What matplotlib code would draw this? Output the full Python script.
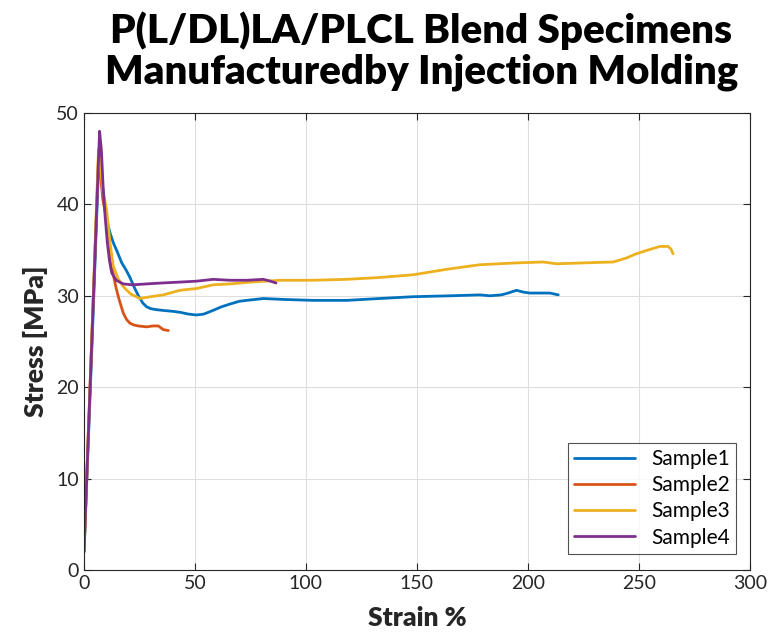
import matplotlib.pyplot as plt
import numpy as np

# strain (%) / stress (MPa)
s1_strain = [0, 3.5, 6.8, 7.8, 8.7, 10.2, 11.7, 13.2, 15, 17, 19, 20.7, 22.5, 24.5, 26.5, 28.2, 30, 32,
             35.6, 40, 43.2, 47, 50.7, 54, 58.1, 62, 65.8, 70, 73.3, 77, 80.8, 90, 103.3, 118.3, 133,
             148.3, 164.9, 178.4, 182.9, 188, 191.1, 194.9, 198, 200.9, 205, 209.9, 213.7]
s1_stress = [2, 24, 46, 43.5, 40.8, 38.3, 36.9, 35.8, 34.8, 33.6, 32.8, 32.0, 31.0, 30.0, 29.2, 28.8, 28.6,
             28.5, 28.4, 28.3, 28.2, 28.0, 27.9, 28.0, 28.4, 28.8, 29.1, 29.4, 29.5, 29.6, 29.7, 29.6,
             29.5, 29.5, 29.7, 29.9, 30.0, 30.1, 30.0, 30.1, 30.3, 30.6, 30.4, 30.3, 30.3, 30.3, 30.1]

s2_strain = [0, 3.3, 6.5, 7.5, 8.5, 10.2, 11.2, 12.2, 13.2, 14.5, 15.8, 17.7, 19.2, 20.7, 22.5, 24.5,
             28.2, 31, 33.5, 35.7, 38]
s2_stress = [2, 24, 45, 43, 40.5, 38.3, 36.2, 34.0, 32.3, 30.8, 29.6, 28.1, 27.4, 27.0, 26.8, 26.7,
             26.6, 26.7, 26.7, 26.3, 26.2]

s3_strain = [0, 3.3, 6.5, 7.5, 8.5, 10.2, 11.7, 13.2, 15.5, 17.7, 21, 25.2, 30, 35.7, 43.2, 50.7, 58.2,
             65.8, 75, 88.3, 103, 118.3, 133, 148.3, 163.4, 178.4, 194.9, 206.9, 212.9, 224.9, 238.4,
             244, 248.9, 254, 259.5, 263.2, 264.5, 265.4]
s3_stress = [2, 24, 46, 44, 41.5, 39.4, 35.8, 33.2, 31.8, 31.0, 30.2, 29.7, 29.9, 30.1, 30.6, 30.8, 31.2,
             31.3, 31.5, 31.7, 31.7, 31.8, 32.0, 32.3, 32.9, 33.4, 33.6, 33.7, 33.5, 33.6, 33.7,
             34.1, 34.6, 35.0, 35.4, 35.4, 35.1, 34.6]

s4_strain = [0, 3.5, 7, 7.8, 8.6, 9.5, 10.5, 11.5, 12.5, 14.5, 17.7, 22, 28.2, 35, 43.2, 50.7, 58.2,
             65.8, 73.3, 80.8, 84, 86.5]
s4_stress = [2, 25, 48, 46, 42, 38.7, 35.8, 33.8, 32.5, 31.7, 31.3, 31.2, 31.3, 31.4, 31.5, 31.6, 31.8,
             31.7, 31.7, 31.8, 31.6, 31.4]

labels = ['Sample1', 'Sample2', 'Sample3', 'Sample4']
colors = ['#0072BD', '#D95319', '#EDB120', '#7E2F8E']

plt.rcParams['font.family'] = ['Lato', 'DejaVu Sans']

fig = plt.figure(figsize=(7.73, 6.41), dpi=100)
ax = fig.add_axes([0.1087, 0.1108, 0.8613, 0.7129])

data = [(s1_strain, s1_stress), (s2_strain, s2_stress), (s3_strain, s3_stress), (s4_strain, s4_stress)]
for (x, y), lab, c in zip(data, labels, colors):
    ax.plot(x, y, color=c, lw=2.0, label=lab, solid_capstyle='round', solid_joinstyle='round')

ax.set_xlim(0, 300)
ax.set_ylim(0, 50)
ax.set_xticks(np.arange(0, 301, 50))
ax.set_yticks(np.arange(0, 51, 10))
ax.grid(True, color='#dedede', lw=0.8)
ax.set_axisbelow(True)
ax.tick_params(direction='in', top=True, right=True, labelsize=14, colors='#262626', length=5)
for sp in ax.spines.values():
    sp.set_color('#262626')
    sp.set_linewidth(0.8)

ax.set_xlabel('Strain %', fontsize=19, fontweight='heavy', color='#262626', labelpad=10)
ax.set_ylabel('Stress [MPa]', fontsize=19, fontweight='heavy', color='#262626', labelpad=6)
fig.suptitle('P(L/DL)LA/PLCL Blend Specimens\nManufacturedby Injection Molding',
             fontsize=29, fontweight='heavy', x=0.545, y=0.982, linespacing=1.12)

leg = ax.legend(loc='lower right', fontsize=15, frameon=True, fancybox=False,
                edgecolor='#262626', handlelength=2.9, borderpad=0.3, labelspacing=0.3,
                bbox_to_anchor=(0.98, 0.035), borderaxespad=0)
leg.get_frame().set_linewidth(0.8)

fig.savefig('out.png', dpi=100)
